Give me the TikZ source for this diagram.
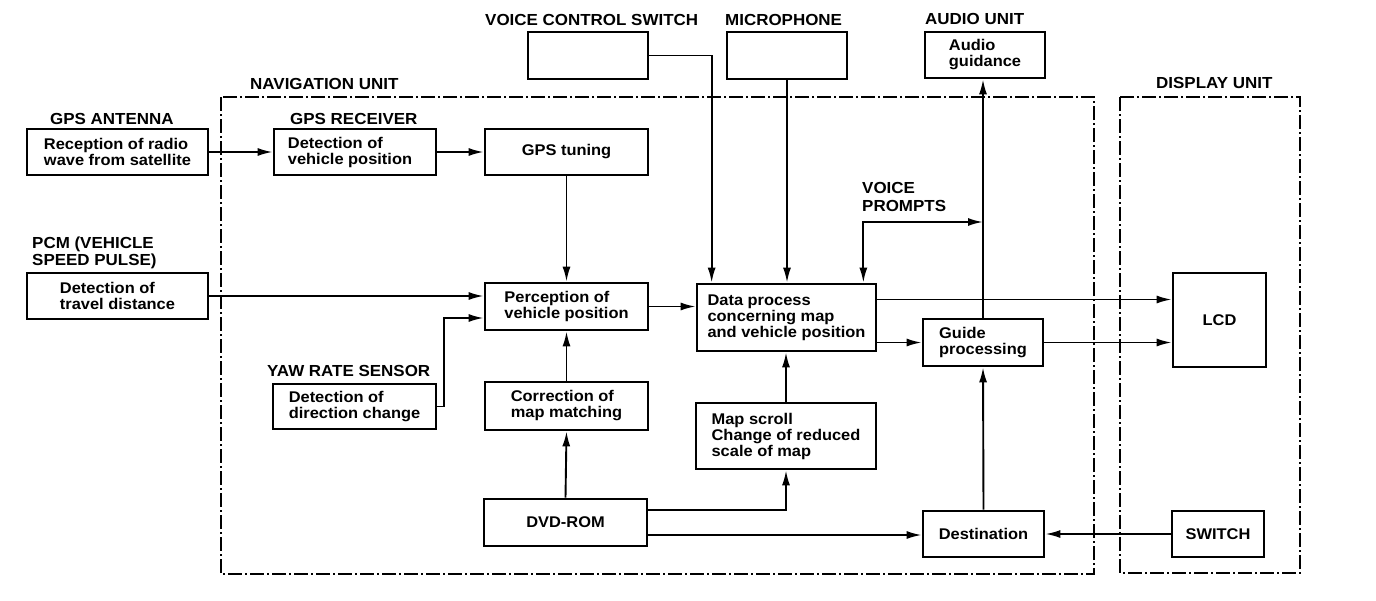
\documentclass[tikz,border=0pt]{standalone}
\usepackage{fontspec}
\setmainfont{Liberation Sans}[FakeStretch=1.06]
\usetikzlibrary{arrows.meta,calc}
\tikzset{
  bx/.style={draw, line width=2.7pt, inner sep=0pt, align=left,
    font=\bfseries\fontsize{15.5}{16}\selectfont},
  hdr/.style={anchor=base west, inner sep=0pt, align=left,
    font=\bfseries\fontsize{16}{18}\selectfont},
  tip/.tip={Latex[length=15pt,width=8pt]},
  arr/.style={line width=1.9pt, -tip},
  arrb/.style={line width=1.9pt, tip-tip},
  unit/.style={line width=1.4pt, dash pattern=on 14pt off 3pt on 2pt off 3pt}
}
\newcommand{\bxn}[6]{\node[bx, minimum width={(#4-#2)*1pt}, minimum height={(#5-#3)*1pt}] (#1) at ({(#2+#4)/2},{(#3+#5)/2}) {#6};}
\begin{document}
\begin{tikzpicture}[x=1pt,y=-1pt]
\useasboundingbox (0,0) rectangle (1376,600);
% unit frames
\draw[unit] (221,97) rectangle (1094,574);
\draw[unit] (1120,97) rectangle (1300,573);
% headers
\node[hdr] (hnav) at (250,89) {NAVIGATION UNIT};
\node[hdr] (hdisp) at (1156,88) {DISPLAY UNIT};
\node[hdr] (hant) at (50,124) {GPS ANTENNA};
\node[hdr] (hrec) at (290,124) {GPS RECEIVER};
\node[hdr] (hvcs) at (485,25) {VOICE CONTROL SWITCH};
\node[hdr] (hmic) at (725,25) {MICROPHONE};
\node[hdr] (haud) at (925,24) {AUDIO UNIT};
\node[hdr, font=\bfseries\fontsize{16}{16.5}\selectfont] (hpcm) at (32,265) {PCM (VEHICLE\\SPEED PULSE)};
\node[hdr] (hyaw) at (267,376) {YAW RATE SENSOR};
\node[hdr] (hvp) at (862,211) {VOICE\\PROMPTS};
% boxes
\bxn{rec}{27}{129}{208}{175}{Reception of radio\\wave from satellite}
\bxn{gpsr}{274}{129}{436}{175}{Detection of\\vehicle position\hspace*{10pt}}
\bxn{tun}{485}{129}{648}{175}{GPS tuning}
\bxn{vcs}{528}{32}{648}{79}{}
\bxn{mic}{727}{32}{847}{79}{}
\bxn{aud}{925}{32}{1045}{78}{Audio\\guidance}
\bxn{trav}{27}{273}{208}{319}{Detection of\\travel distance}
\bxn{perc}{485}{283}{648}{330}{Perception of\\vehicle position}
\bxn{dp}{697}{284}{876}{351}{Data process\\concerning map\\and vehicle position}
\bxn{guide}{923}{319}{1043}{366}{Guide\\processing}
\bxn{lcd}{1173}{273}{1266}{367}{LCD}
\bxn{sw}{1172}{511}{1264}{557}{SWITCH}
\bxn{dir}{273}{384}{436}{429}{Detection of\\direction change}
\bxn{corr}{485}{382}{648}{430}{Correction of\\map matching}
\bxn{map}{696}{403}{876}{469}{Map scroll\\Change of reduced\\scale of map}
\bxn{dvd}{484}{499}{647}{546}{DVD-ROM}
\bxn{dest}{923}{511}{1044}{557}{Destination}
\coordinate (vp) at (983,222);
% connectors
\draw[arr] (rec.east) -- (gpsr.west);
\draw[arr] (gpsr.east) -- (tun.west);
\draw[arr] (tun.south) -- (perc.north);
\draw[arr] (trav.east) -- (trav.east -| perc.west);
\draw[arr] (dir.east) -- ++(7,0) |- ([yshift=-11.5pt]perc.west);
\draw[arr] (corr.north) -- (perc.south);
\draw[arr] (dvd.north) -- (corr.south);
\draw[arr] (perc.east) -- (perc.east -| dp.west);
\draw[arr] (vcs.east) -| ([xshift=16pt]dp.north west);
\draw[arr] (mic.south) -- (mic.south |- dp.north);
\draw[arrb] (vp) -| ([xshift=-14pt]dp.north east);
\draw[arr] (guide.north) -- (guide.north |- aud.south);
\draw[arr] ([yshift=18pt]dp.east) -- ([yshift=18pt]dp.east -| lcd.west);
\draw[arr] ([yshift=-25pt]dp.east) -- ([yshift=-25pt]dp.east -| guide.west);
\draw[arr] (guide.east) -- (guide.east -| lcd.west);
\draw[arr] (map.north) -- (map.north |- dp.south);
\draw[arr] ([yshift=12.5pt]dvd.east) -| (map.south);
\draw[arr] ([yshift=-12.5pt]dvd.east) -- ([yshift=-12.5pt]dvd.east -| dest.west);
\draw[arr] (dest.north) -- (guide.south);
\draw[arr] (sw.west) -- (dest.east);
\end{tikzpicture}
\end{document}
